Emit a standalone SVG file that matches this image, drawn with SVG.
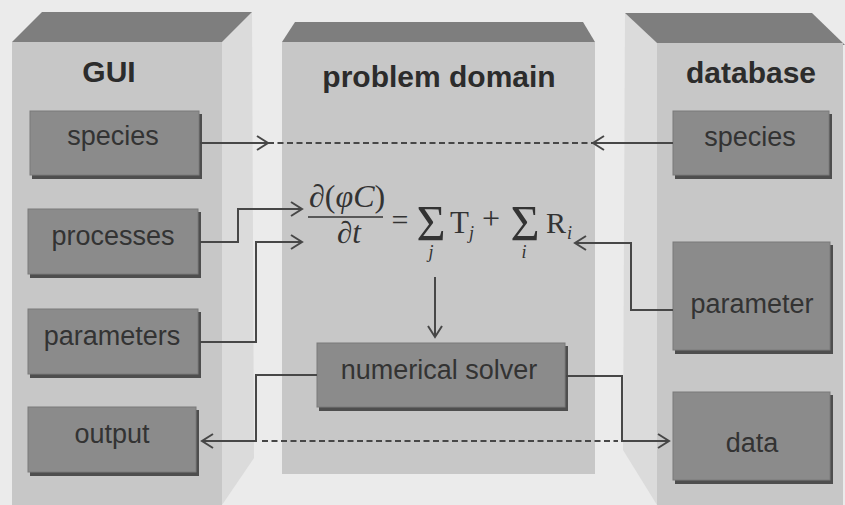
<svg xmlns="http://www.w3.org/2000/svg" width="845" height="505" viewBox="0 0 845 505">
  <defs>
    <style>
      .front { fill: #c7c7c7; }
      .top { fill: #7e7e7e; }
      .side { fill: #dbdbdb; }
      .title { font-family: "Liberation Sans", Arial, sans-serif; font-weight: bold; font-size: 30px; fill: #2c2c2c; text-anchor: middle; }
      .box { fill: #8b8b8b; stroke: #7a7a7a; stroke-width: 1; }
      .shadow { fill: #4e4e4e; }
      .label { font-family: "Liberation Sans", Arial, sans-serif; font-size: 27px; fill: #333333; text-anchor: middle; }
      .wire { fill: none; stroke: #474747; stroke-width: 2; }
      .dash { fill: none; stroke: #474747; stroke-width: 2; stroke-dasharray: 6 3.5; }
      .math { font-family: "Liberation Serif", "Times New Roman", serif; fill: #333333; }
      .it { font-style: italic; }
    </style>
    <marker id="arrow" markerUnits="userSpaceOnUse" markerWidth="16" markerHeight="18" refX="12" refY="8" orient="auto">
      <path d="M1,1 L12,8 L1,15" fill="none" stroke="#474747" stroke-width="2"/>
    </marker>
  </defs>

  <!-- page background -->
  <rect x="0" y="0" width="845" height="505" fill="#ebebeb"/>

  <!-- GUI column -->
  <g id="gui-column">
    <polygon class="side" points="222,42 252,12 254,458 222,505"/>
    <polygon class="top" points="12,42 42,12 252,12 222,42"/>
    <rect class="front" x="12" y="42" width="210" height="463"/>
    <text class="title" x="109" y="82">GUI</text>
  </g>

  <!-- problem domain column -->
  <g id="domain-column">
    <polygon class="top" points="282,42 295,22 583,22 595,42"/>
    <rect class="front" x="282" y="42" width="313" height="432"/>
    <text class="title" x="439" y="87">problem domain</text>
  </g>

  <!-- database column -->
  <g id="database-column">
    <polygon class="side" points="625,13 657,43 657,505 623,450"/>
    <polygon class="top" points="625,13 812,13 845,45 657,43"/>
    <rect class="front" x="657" y="43" width="186" height="462"/>
    <text class="title" x="751" y="83">database</text>
  </g>

  <!-- GUI items -->
  <g id="gui-species">
    <rect class="shadow" x="32" y="114" width="170" height="65"/>
    <rect class="box" x="30" y="111" width="169" height="64"/>
    <text class="label" x="113" y="145">species</text>
  </g>
  <g id="gui-processes">
    <rect class="shadow" x="30" y="212" width="171" height="66"/>
    <rect class="box" x="28" y="209" width="170" height="65"/>
    <text class="label" x="113" y="245">processes</text>
  </g>
  <g id="gui-parameters">
    <rect class="shadow" x="30" y="312" width="171" height="66"/>
    <rect class="box" x="28" y="309" width="170" height="65"/>
    <text class="label" x="112" y="345">parameters</text>
  </g>
  <g id="gui-output">
    <rect class="shadow" x="30" y="410" width="169" height="66"/>
    <rect class="box" x="28" y="407" width="168" height="65"/>
    <text class="label" x="112" y="443">output</text>
  </g>

  <!-- transport-reaction equation -->
  <g id="equation" class="math">
    <text class="it" x="309" y="207" font-size="32">∂<tspan font-style="normal">(</tspan>φC<tspan font-style="normal">)</tspan></text>
    <line x1="308" y1="217" x2="383" y2="217" stroke="#333333" stroke-width="1.5"/>
    <text class="it" x="349" y="243" font-size="31" text-anchor="middle">∂t</text>
    <text x="400" y="230" font-size="30" text-anchor="middle">=</text>
    <text x="431" y="240" font-size="50" text-anchor="middle">Σ</text>
    <text x="450" y="233" font-size="31">T</text>
    <text class="it" x="469" y="239" font-size="18">j</text>
    <text class="it" x="431" y="258" font-size="18" text-anchor="middle">j</text>
    <text x="491" y="229" font-size="32" text-anchor="middle">+</text>
    <text x="525" y="240" font-size="50" text-anchor="middle">Σ</text>
    <text x="546" y="233" font-size="30">R</text>
    <text class="it" x="567" y="239" font-size="18">i</text>
    <text class="it" x="524" y="258" font-size="18" text-anchor="middle">i</text>
  </g>

  <!-- solver -->
  <g id="numerical-solver">
    <rect class="shadow" x="319" y="346" width="249" height="65"/>
    <rect class="box" x="317" y="343" width="248" height="64"/>
    <text class="label" x="439" y="379">numerical solver</text>
  </g>

  <!-- database items -->
  <g id="db-species">
    <rect class="shadow" x="675" y="114" width="157" height="65"/>
    <rect class="box" x="673" y="111" width="156" height="64"/>
    <text class="label" x="750" y="146">species</text>
  </g>
  <g id="db-parameter">
    <rect class="shadow" x="675" y="245" width="158" height="109"/>
    <rect class="box" x="673" y="242" width="157" height="108"/>
    <text class="label" x="752" y="313">parameter</text>
  </g>
  <g id="db-data">
    <rect class="shadow" x="675" y="395" width="158" height="89"/>
    <rect class="box" x="673" y="392" width="157" height="88"/>
    <text class="label" x="752" y="452">data</text>
  </g>

  <!-- connectors -->
  <g id="connectors">
    <path class="wire" d="M200,143 H268" marker-end="url(#arrow)"/>
    <path class="dash" d="M268,143 H593"/>
    <path class="wire" d="M673,143 H593" marker-end="url(#arrow)"/>
    <path class="wire" d="M200,242 H238 V209 H302" marker-end="url(#arrow)"/>
    <path class="wire" d="M200,342 H256 V242 H302" marker-end="url(#arrow)"/>
    <path class="wire" d="M673,310 H631 V243 H575" marker-end="url(#arrow)"/>
    <path class="wire" d="M435,277 V337" marker-end="url(#arrow)"/>
    <path class="wire" d="M317,375 H256 V441 H202" marker-end="url(#arrow)"/>
    <path class="wire" d="M566,376 H622 V441 H669" marker-end="url(#arrow)"/>
    <path class="dash" d="M262,441 H618"/>
  </g>
</svg>
